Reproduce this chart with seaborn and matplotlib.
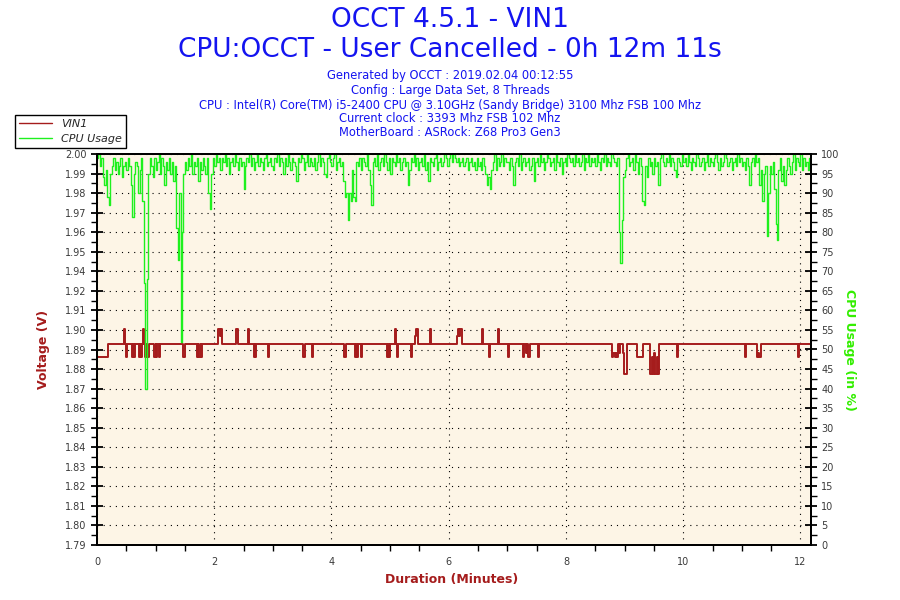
import numpy as np
import matplotlib
matplotlib.use('Agg')
import matplotlib.pyplot as plt
import seaborn as sns
from matplotlib.ticker import MultipleLocator

# chart values
TITLE = 'OCCT 4.5.1 - VIN1'
SUBTITLE = 'CPU:OCCT - User Cancelled - 0h 12m 11s'
INFO_LINES = [
    'Generated by OCCT : 2019.02.04 00:12:55',
    'Config : Large Data Set, 8 Threads',
    'CPU : Intel(R) Core(TM) i5-2400 CPU @ 3.10GHz (Sandy Bridge) 3100 Mhz FSB 100 Mhz',
    'Current clock : 3393 Mhz FSB 102 Mhz',
    'MotherBoard : ASRock: Z68 Pro3 Gen3',
]

DURATION = 12.18  # minutes (0h 12m 11s)

# left axis tick labels, as printed by OCCT (1.93 is skipped)
vin_tick_labels = ['1.79', '1.80', '1.81', '1.82', '1.83', '1.84', '1.85', '1.86',
                   '1.87', '1.88', '1.89', '1.90', '1.91', '1.92', '1.94', '1.95',
                   '1.96', '1.97', '1.98', '1.99', '2.00']

# VIN1 step changes: time (min) -> value held until next time
vin_time = [0.00, 0.18, 0.46, 0.48, 0.50, 0.52, 0.60, 0.62, 0.63, 0.65,
            0.72, 0.74, 0.75, 0.77, 0.79, 0.81, 0.82, 0.84, 0.86, 0.88,
            0.98, 1.00, 1.01, 1.02, 1.05, 1.07, 1.47, 1.50, 1.70, 1.72,
            1.73, 1.75, 1.77, 1.79, 2.07, 2.09, 2.11, 2.13, 2.37, 2.40,
            2.57, 2.59, 2.67, 2.69, 2.70, 2.72, 2.92, 2.94, 3.52, 3.54,
            3.66, 3.68, 4.22, 4.24, 4.40, 4.42, 4.43, 4.45, 4.50, 4.52,
            4.95, 4.97, 4.98, 5.00, 5.08, 5.10, 5.11, 5.13, 5.36, 5.38,
            5.43, 5.45, 5.47, 5.68, 5.70, 6.14, 6.16, 6.18, 6.20, 6.22,
            6.56, 6.58, 6.68, 6.70, 6.84, 6.86, 7.01, 7.03, 7.27, 7.29,
            7.31, 7.33, 7.36, 7.38, 7.52, 7.54, 8.79, 8.81, 8.83, 8.85,
            8.87, 8.89, 8.91, 8.93, 8.97, 8.99, 9.04, 9.21, 9.32, 9.44,
            9.46, 9.48, 9.50, 9.52, 9.55, 9.57, 9.58, 9.89, 9.91, 11.05,
            11.07, 11.26, 11.28, 11.30, 11.32, 11.96, 11.98, 12.18]
vin_volts = [1.891, 1.898, 1.906, 1.898, 1.891, 1.898, 1.891, 1.898, 1.891, 1.898,
             1.891, 1.898, 1.891, 1.898, 1.906, 1.898, 1.891, 1.898, 1.891, 1.898,
             1.891, 1.898, 1.891, 1.898, 1.891, 1.898, 1.891, 1.898, 1.891, 1.898,
             1.891, 1.898, 1.891, 1.898, 1.906, 1.902, 1.906, 1.898, 1.906, 1.898,
             1.906, 1.898, 1.891, 1.898, 1.891, 1.898, 1.891, 1.898, 1.891, 1.898,
             1.891, 1.898, 1.891, 1.898, 1.891, 1.898, 1.891, 1.898, 1.891, 1.898,
             1.891, 1.898, 1.891, 1.898, 1.906, 1.898, 1.891, 1.898, 1.891, 1.898,
             1.902, 1.906, 1.898, 1.906, 1.898, 1.902, 1.906, 1.902, 1.906, 1.898,
             1.906, 1.898, 1.891, 1.898, 1.906, 1.898, 1.891, 1.898, 1.891, 1.898,
             1.893, 1.898, 1.891, 1.898, 1.891, 1.898, 1.891, 1.893, 1.891, 1.893,
             1.891, 1.898, 1.893, 1.898, 1.893, 1.882, 1.898, 1.891, 1.898, 1.882,
             1.891, 1.882, 1.893, 1.882, 1.891, 1.882, 1.898, 1.891, 1.898, 1.891,
             1.898, 1.891, 1.893, 1.891, 1.898, 1.891, 1.898, 1.898]

# CPU usage (%), one reading every 1.5 seconds (20 readings per row = 0.5 min)
CPU_STEP = 0.025
cpu_usage = [
    99, 100, 97, 99, 94, 92, 96, 89, 87, 95, 97, 99, 96, 98, 95, 97, 99, 94, 97, 98,
    96, 99, 97, 92, 84, 95, 98, 97, 90, 96, 99, 88, 67, 40, 68, 95, 99, 97, 94, 99,
    96, 98, 100, 95, 99, 97, 92, 98, 96, 99, 95, 98, 93, 97, 81, 73, 90, 52, 80, 95,
    98, 96, 99, 97, 100, 95, 98, 97, 99, 93, 98, 96, 99, 97, 95, 99, 90, 86, 95, 99,
    97, 100, 98, 99, 96, 99, 98, 100, 97, 99, 95, 98, 99, 97, 100, 98, 96, 99, 97, 98,
    91, 97, 99, 98, 100, 97, 99, 96, 98, 100, 97, 99, 98, 96, 99, 100, 97, 98, 99, 97,
    96, 99, 98, 100, 97, 99, 98, 95, 99, 97, 100, 98, 96, 99, 98, 97, 93, 99, 98, 100,
    99, 96, 98, 100, 97, 99, 98, 97, 99, 96, 98, 100, 97, 99, 98, 95, 94, 99, 100, 98,
    97, 99, 100, 96, 98, 99, 97, 98, 93, 89, 90, 83, 90, 88, 96, 89, 88, 98, 97, 99,
    96, 99, 98, 97, 100, 96, 92, 87, 98, 99, 97, 100, 96, 98, 99, 97, 100, 98, 96, 99,
    95, 99, 98, 97, 100, 98, 99, 96, 98, 99, 97, 98, 92, 96, 99, 98, 100, 97, 99, 96,
    98, 99, 97, 100, 96, 98, 93, 99, 98, 97, 99, 100, 96, 98, 99, 97, 98, 100, 99, 97,
    99, 100, 98, 100, 99, 98, 99, 97, 98, 99, 97, 98, 99, 96, 98, 99, 97, 98, 96, 99,
    97, 98, 96, 99, 97, 95, 92, 94, 91, 96, 98, 100, 96, 99, 97, 98, 100, 97, 99, 98,
    98, 96, 99, 97, 92, 98, 99, 97, 100, 96, 98, 99, 97, 98, 99, 96, 97, 99, 93, 98,
    99, 97, 100, 98, 99, 96, 98, 100, 99, 97, 98, 99, 96, 100, 98, 97, 99, 95, 98, 99,
    97, 100, 99, 98, 99, 97, 100, 98, 99, 97, 98, 100, 96, 99, 98, 100, 97, 99, 98, 99,
    97, 100, 98, 96, 99, 98, 100, 97, 99, 98, 97, 100, 99, 98, 97, 99, 80, 72, 83, 94,
    96, 99, 100, 97, 98, 99, 96, 100, 98, 95, 99, 97, 88, 87, 97, 94, 99, 97, 98, 95,
    99, 97, 98, 92, 99, 100, 98, 97, 99, 98, 100, 97, 99, 98, 96, 94, 99, 98, 97, 100,
    98, 99, 97, 100, 98, 96, 99, 98, 97, 100, 99, 97, 98, 99, 96, 98, 100, 97, 99, 98,
    97, 99, 100, 98, 96, 99, 97, 98, 100, 99, 97, 98, 99, 96, 98, 99, 97, 100, 98, 99,
    97, 98, 96, 99, 97, 92, 98, 99, 97, 100, 98, 99, 92, 96, 88, 95, 97, 79, 90, 97,
    95, 98, 91, 82, 78, 96, 99, 93, 97, 92, 96, 99, 97, 95, 98, 100, 96, 99, 98, 97,
    100, 96, 99, 97, 98, 96, 99, 97,
]
cpu_time = np.arange(len(cpu_usage)) * CPU_STEP

RED = '#A51C1C'
GREEN = '#1EF01E'
BLUE = '#1414F0'
TICK_GREY = '#3A3A3A'

sns.set_style('white')
plt.rcParams['font.family'] = ['DejaVu Sans']

fig = plt.figure(figsize=(9, 6), dpi=100)
ax = fig.add_axes([97 / 900, 55 / 600, 714 / 900, 391 / 600])
ax.set_facecolor('#FDF5E6')

sns.lineplot(x=vin_time, y=vin_volts, ax=ax, color=RED, linewidth=1.4,
             drawstyle='steps-post', estimator=None, sort=False, legend=False)

ax2 = ax.twinx()
sns.lineplot(x=cpu_time, y=cpu_usage, ax=ax2, color=GREEN, linewidth=1.0,
             drawstyle='steps-post', estimator=None, sort=False, legend=False)

# left axis (voltage)
ax.set_xlim(0, DURATION)
ax.set_ylim(1.79, 2.00)
vin_ticks = np.linspace(1.79, 2.00, len(vin_tick_labels))
ax.set_yticks(vin_ticks)
ax.set_yticklabels(vin_tick_labels)
ax.set_yticks((vin_ticks[:-1] + vin_ticks[1:]) / 2, minor=True)
ax.xaxis.set_major_locator(MultipleLocator(2))
ax.xaxis.set_minor_locator(MultipleLocator(0.5))

# right axis (cpu)
ax2.set_ylim(0, 100)
ax2.yaxis.set_major_locator(MultipleLocator(5))
ax2.yaxis.set_minor_locator(MultipleLocator(2.5))

for a in (ax, ax2):
    a.tick_params(which='major', direction='inout', length=9, width=1.3,
                  color='black', labelsize=7, labelcolor=TICK_GREY, pad=3)
    a.tick_params(which='minor', direction='out', length=4, width=1.0, color='black')
    for s in a.spines.values():
        s.set_color('black')
        s.set_linewidth(1.4)
ax.tick_params(axis='x', which='major', pad=4)
ax.tick_params(axis='y', which='minor', left=True)
ax.tick_params(axis='x', which='minor', bottom=True)
ax2.tick_params(axis='y', which='both', right=True)

ax.grid(True, which='major', color='black', linestyle=(0, (1, 4.5)), linewidth=0.8)
ax2.grid(False)

ax.set_xlabel('Duration (Minutes)', color=RED, fontweight='bold', fontsize=9)
ax.xaxis.set_label_coords(0.496, -0.071)
ax.set_ylabel('Voltage (V)', color=RED, fontweight='bold', fontsize=9)
ax.yaxis.set_label_coords(-0.066, 0.5)
ax2.set_ylabel('CPU Usage (in %)', color='#33EE00', fontweight='bold', fontsize=9,
               rotation=-90, va='center', ha='center')
ax2.yaxis.set_label_coords(1.0546, 0.5)

# header text
fig.text(0.5, 1 - 20 / 600, TITLE, ha='center', va='center', color=BLUE, fontsize=19)
fig.text(0.5, 1 - 50 / 600, SUBTITLE, ha='center', va='center', color=BLUE, fontsize=19)
for y_px, line in zip([76, 91, 105, 118, 132], INFO_LINES):
    fig.text(0.5, 1 - y_px / 600, line, ha='center', va='center', color=BLUE, fontsize=8.3)

# legend box, top-left outside the plot
handles = [ax.lines[0], ax2.lines[0]]
leg = fig.legend(handles, ['VIN1', 'CPU Usage'], loc='upper left',
                 bbox_to_anchor=(15 / 900, 1 - 115 / 600), frameon=True, fancybox=False,
                 edgecolor='black', framealpha=1, borderpad=0.35, labelspacing=0.45,
                 handlelength=3.0, handletextpad=0.8, borderaxespad=0,
                 prop={'size': 8, 'style': 'italic'})
leg.get_frame().set_linewidth(1.0)
for line in leg.get_lines():
    line.set_linewidth(1.0)

fig.savefig('out.png', dpi=100, facecolor='white')
